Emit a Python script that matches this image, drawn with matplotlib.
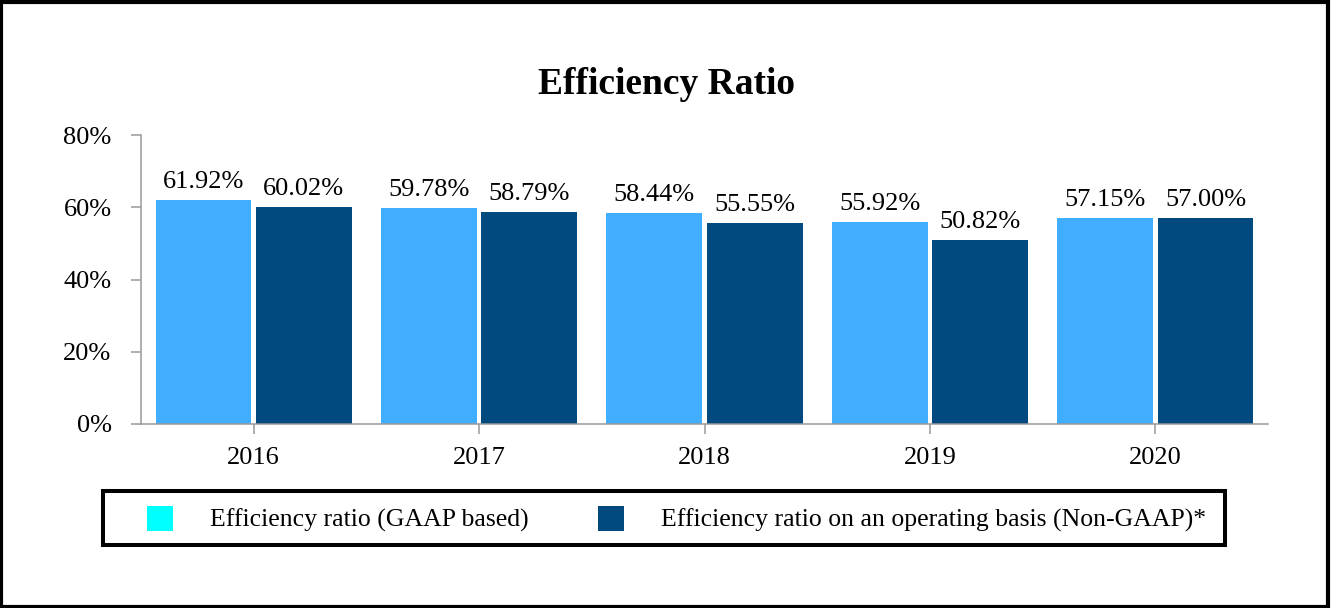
import matplotlib
matplotlib.use('Agg')
import matplotlib.pyplot as plt
from matplotlib.patches import Rectangle, Patch
import numpy as np

# Chart data
years = ['2016', '2017', '2018', '2019', '2020']
gaap = [61.92, 59.78, 58.44, 55.92, 57.15]
non_gaap = [60.02, 58.79, 55.55, 50.82, 57.00]
y_ticks = [0, 20, 40, 60, 80]

gaap_color = '#41ADFF'
non_gaap_color = '#004A80'
legend_gaap_color = '#00FFFF'
axis_color = '#999999'

plt.rcParams['font.family'] = ['Liberation Serif', 'DejaVu Serif']

fig = plt.figure(figsize=(13.32, 6.08), dpi=100)
ax = fig.add_axes([141 / 1332, 1 - 424 / 608, (1268 - 141) / 1332, (424 - 135) / 608])

x = np.arange(len(years))
width = 0.425
offset = 0.2225
bars1 = ax.bar(x - offset, gaap, width, color=gaap_color)
bars2 = ax.bar(x + offset, non_gaap, width, color=non_gaap_color)

# Value labels above bars
ax.bar_label(bars1, labels=[f'{v:.2f}%' for v in gaap], padding=5, fontsize=19)
ax.bar_label(bars2, labels=[f'{v:.2f}%' for v in non_gaap], padding=5, fontsize=19)

ax.set_xlim(-0.5, len(years) - 0.5)
ax.set_ylim(0, 80)
ax.set_yticks(y_ticks)
ax.set_yticklabels([f'{t}%' for t in y_ticks], fontsize=19)
ax.set_xticks(x)
ax.set_xticklabels(years, fontsize=19)

for side in ['top', 'right']:
    ax.spines[side].set_visible(False)
for side in ['left', 'bottom']:
    ax.spines[side].set_color(axis_color)
    ax.spines[side].set_linewidth(1.1)
ax.tick_params(axis='both', colors=axis_color, length=7.2, width=1.1, labelcolor='black')
ax.tick_params(axis='x', pad=9.5)
ax.tick_params(axis='y', pad=14)

fig.text(0.5, 1 - 85 / 608, 'Efficiency Ratio', ha='center', va='center',
         fontsize=27, fontweight='bold')

# Legend
handles = [Patch(facecolor=legend_gaap_color, edgecolor='none'),
           Patch(facecolor=non_gaap_color, edgecolor='none')]
labels = ['Efficiency ratio (GAAP based)',
          'Efficiency ratio on an operating basis (Non-GAAP)*']
fig.legend(handles, labels, loc='center left',
           bbox_to_anchor=(147 / 1332, 1 - 519 / 608), ncol=2, frameon=False,
           fontsize=18.5, borderpad=0, borderaxespad=0, handlelength=1.01,
           handleheight=1.15, handletextpad=1.46, columnspacing=2.68)
fig.patches.append(Rectangle((103 / 1332, 1 - 545 / 608), (1225 - 103) / 1332, 54 / 608,
                             transform=fig.transFigure, fill=False, edgecolor='black',
                             linewidth=2.9))

# Outer border
fig.patches.append(Rectangle((0.001, 0.002), 0.996, 0.995, transform=fig.transFigure,
                             fill=False, edgecolor='black', linewidth=3))

fig.savefig('out.png', dpi=100)
